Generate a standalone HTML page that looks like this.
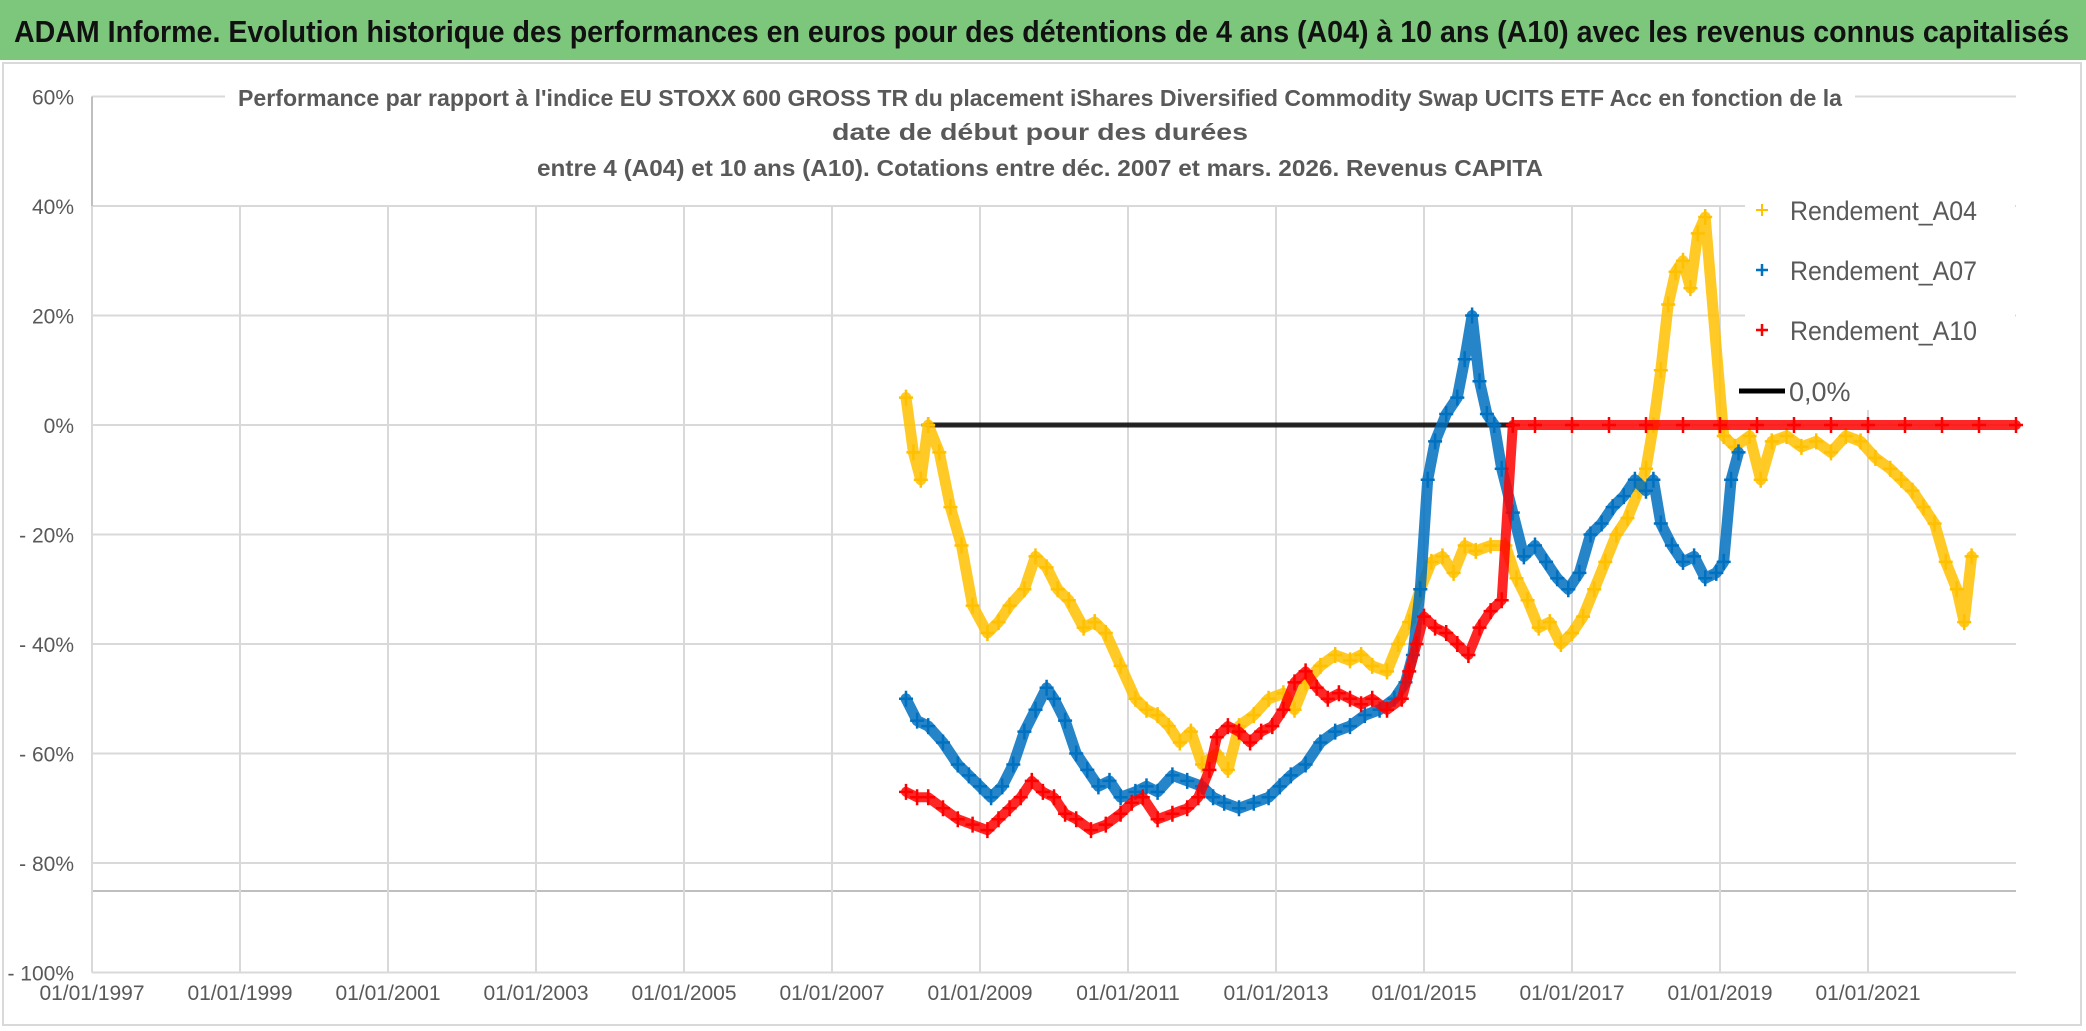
<!DOCTYPE html>
<html><head><meta charset="utf-8"><style>
html,body{margin:0;padding:0;background:#fff;}
svg{display:block;font-family:"Liberation Sans",sans-serif;}
</style></head><body>
<svg id="chart" width="2086" height="1031" viewBox="0 0 2086 1031" xmlns="http://www.w3.org/2000/svg">
<rect x="0" y="0" width="2086" height="1031" fill="#fff"/>
<rect x="0" y="0" width="2086" height="60" fill="#7dc77d"/>
<text x="14" y="42" font-size="31" font-weight="bold" fill="#111" textLength="2055" lengthAdjust="spacingAndGlyphs">ADAM Informe. Evolution historique des performances en euros pour des détentions de 4 ans (A04) à 10 ans (A10) avec les revenus connus capitalisés</text>
<rect x="3" y="63" width="2078" height="962" fill="none" stroke="#d9d9d9" stroke-width="2"/>
<g id="grid"></g>
<g id="yticks"></g>
<g id="xticks"></g>
<rect x="225" y="80" width="1630" height="118" fill="#fff"/>
<g fill="#595959" font-size="23" font-weight="bold" text-anchor="middle" font-family="Liberation Sans, sans-serif">
<text x="1040" y="106" textLength="1604" lengthAdjust="spacingAndGlyphs">Performance  par rapport à l'indice EU STOXX 600 GROSS TR  du placement iShares Diversified Commodity Swap UCITS ETF Acc en fonction de la</text>
<text x="1040" y="140" textLength="416" lengthAdjust="spacingAndGlyphs">date de début pour des durées</text>
<text x="1040" y="176" textLength="1006" lengthAdjust="spacingAndGlyphs">entre 4 (A04) et 10 ans (A10). Cotations entre déc. 2007 et mars. 2026. Revenus CAPITA</text>
</g>
<g id="series"></g>
<g id="legend">
<rect x="1745" y="185" width="270" height="225" fill="#fff"/>
<g><path d="M1756 210h12M1762 204v12" stroke="#ffc000" stroke-width="2"/><text x="1790" y="220" font-size="27" fill="#595959" textLength="187" lengthAdjust="spacingAndGlyphs">Rendement_A04</text></g>
<g><path d="M1756 270h12M1762 264v12" stroke="#0070c0" stroke-width="2.5"/><text x="1790" y="280" font-size="27" fill="#595959" textLength="187" lengthAdjust="spacingAndGlyphs">Rendement_A07</text></g>
<g><path d="M1756 330h12M1762 324v12" stroke="#ff0000" stroke-width="2.5"/><text x="1790" y="340" font-size="27" fill="#595959" textLength="187" lengthAdjust="spacingAndGlyphs">Rendement_A10</text></g>
<g><path d="M1739 391h46" stroke="#000" stroke-width="5"/><text x="1789" y="401" font-size="27" fill="#595959">0,0%</text></g>
</g>
</svg>
<script>
const yTicks=[60,40,20,0,-20,-40,-60,-80,-100];
const yTickLabels=["60%","40%","20%","0%","- 20%","- 40%","- 60%","- 80%","- 100%"];
const xTicks=[1997,1999,2001,2003,2005,2007,2009,2011,2013,2015,2017,2019,2021];
const xTickLabels=["01/01/1997","01/01/1999","01/01/2001","01/01/2003","01/01/2005","01/01/2007","01/01/2009","01/01/2011","01/01/2013","01/01/2015","01/01/2017","01/01/2019","01/01/2021"];
const a04Dates=[2008.0,2008.1,2008.2,2008.3,2008.45,2008.6,2008.75,2008.9,2009.1,2009.25,2009.4,2009.6,2009.75,2009.9,2010.05,2010.2,2010.4,2010.55,2010.7,2010.9,2011.1,2011.25,2011.4,2011.55,2011.7,2011.85,2012.0,2012.2,2012.35,2012.5,2012.7,2012.9,2013.1,2013.25,2013.4,2013.6,2013.8,2014.0,2014.15,2014.3,2014.5,2014.65,2014.8,2014.95,2015.1,2015.25,2015.4,2015.55,2015.7,2015.9,2016.1,2016.25,2016.4,2016.55,2016.7,2016.85,2017.0,2017.15,2017.3,2017.45,2017.6,2017.75,2017.9,2018.0,2018.1,2018.2,2018.3,2018.4,2018.5,2018.6,2018.7,2018.8,2019.05,2019.2,2019.4,2019.55,2019.7,2019.9,2020.1,2020.3,2020.5,2020.7,2020.9,2021.1,2021.3,2021.45,2021.6,2021.75,2021.9,2022.05,2022.2,2022.3,2022.4];
const a04Values=[5,-5,-10,0,-5,-15,-22,-33,-38,-36,-33,-30,-24,-26,-30,-32,-37,-36,-38,-44,-50,-52,-53,-55,-58,-56,-62,-60,-63,-55,-53,-50,-49,-52,-47,-44,-42,-43,-42,-44,-45,-40,-36,-30,-25,-24,-27,-22,-23,-22,-22,-28,-32,-37,-36,-40,-38,-35,-30,-25,-20,-17,-12,-8,0,10,22,28,30,25,35,38,-2,-4,-2,-10,-3,-2,-4,-3,-5,-2,-3,-6,-8,-10,-12,-15,-18,-25,-30,-36,-24];
const a07Dates=[2008.0,2008.15,2008.3,2008.5,2008.7,2008.85,2009.0,2009.15,2009.3,2009.45,2009.6,2009.75,2009.9,2010.0,2010.15,2010.3,2010.45,2010.6,2010.75,2010.9,2011.1,2011.25,2011.4,2011.6,2011.8,2012.0,2012.15,2012.3,2012.5,2012.7,2012.9,2013.05,2013.2,2013.4,2013.6,2013.8,2014.0,2014.2,2014.4,2014.6,2014.75,2014.85,2014.95,2015.05,2015.15,2015.3,2015.45,2015.55,2015.65,2015.75,2015.85,2015.95,2016.05,2016.2,2016.35,2016.5,2016.65,2016.8,2016.95,2017.1,2017.25,2017.4,2017.55,2017.7,2017.85,2018.0,2018.1,2018.2,2018.35,2018.5,2018.65,2018.8,2018.95,2019.05,2019.15,2019.25];
const a07Values=[-50,-54,-55,-58,-62,-64,-66,-68,-66,-62,-56,-52,-48,-50,-54,-60,-63,-66,-65,-68,-67,-66,-67,-64,-65,-66,-68,-69,-70,-69,-68,-66,-64,-62,-58,-56,-55,-53,-52,-50,-47,-42,-30,-10,-3,2,5,12,20,8,2,0,-8,-16,-24,-22,-25,-28,-30,-27,-20,-18,-15,-13,-10,-12,-10,-18,-22,-25,-24,-28,-27,-25,-10,-5];
const a10Dates=[2008.0,2008.15,2008.3,2008.5,2008.7,2008.9,2009.1,2009.25,2009.4,2009.55,2009.7,2009.85,2010.0,2010.15,2010.3,2010.5,2010.7,2010.9,2011.05,2011.2,2011.4,2011.6,2011.8,2011.95,2012.1,2012.2,2012.35,2012.5,2012.65,2012.8,2012.95,2013.1,2013.25,2013.4,2013.55,2013.7,2013.85,2014.0,2014.15,2014.3,2014.5,2014.7,2014.8,2014.9,2015.0,2015.15,2015.3,2015.45,2015.6,2015.75,2015.9,2016.05,2016.2,2016.5,2017.0,2017.5,2018.0,2018.5,2019.0,2019.5,2020.0,2020.5,2021.0,2021.5,2022.0,2022.5,2023.0];
const a10Values=[-67,-68,-68,-70,-72,-73,-74,-72,-70,-68,-65,-67,-68,-71,-72,-74,-73,-71,-69,-68,-72,-71,-70,-68,-63,-57,-55,-56,-58,-56,-55,-52,-47,-45,-48,-50,-49,-50,-51,-50,-52,-50,-45,-40,-35,-37,-38,-40,-42,-37,-34,-32,0,0,0,0,0,0,0,0,0,0,0,0,0,0,0];
const zeroDates=[2008.3,2016.2];
const zeroValues=[0,0];

const NS="http://www.w3.org/2000/svg";
const X0=92,X1=2016,XMIN=1997,XMAX=2023,Y0=425,PX20=109.5;
function xs(d){return X0+(d-XMIN)/(XMAX-XMIN)*(X1-X0);}
function ys(v){return Y0-v/20*PX20;}
function mk(tag,attrs,parent){const e=document.createElementNS(NS,tag);for(const k in attrs)e.setAttribute(k,attrs[k]);parent.appendChild(e);return e;}
const grid=document.getElementById('grid'),yt=document.getElementById('yticks'),xt=document.getElementById('xticks'),ser=document.getElementById('series');
yTicks.forEach((v,i)=>{
  const l=mk('line',{x1:X0,x2:X1,y1:ys(v),y2:ys(v),stroke:'#d9d9d9','stroke-width':2},grid);
  
  
  const t=mk('text',{x:74,y:ys(v)+8,'font-size':21,fill:'#595959','text-anchor':'end'},yt);
  t.textContent=yTickLabels[i];
  
  
});
const base=mk('line',{x1:X0,x2:X1,y1:891,y2:891,stroke:'#bfbfbf','stroke-width':2},grid);


const yax=mk('line',{x1:X0,x2:X0,y1:ys(60),y2:ys(-100),stroke:'#bfbfbf','stroke-width':2},grid);


xTicks.forEach((d,i)=>{
  const l=mk('line',{x1:xs(d),x2:xs(d),y1:ys(40),y2:ys(-100),stroke:'#d9d9d9','stroke-width':2},grid);
  
  
  const t=mk('text',{x:xs(d),y:1000,'font-size':21,fill:'#595959','text-anchor':'middle'},xt);
  t.textContent=xTickLabels[i];
  
  
});
function series(dates,vals,color,name,w){
  const g=mk('g',{},ser);
  
  
  const pts=dates.map((d,i)=>xs(d).toFixed(1)+','+ys(vals[i]).toFixed(1)).join(' ');
  const pl=mk('polyline',{points:pts,fill:'none',stroke:color,'stroke-width':w,'stroke-linejoin':'round','stroke-linecap':'round',opacity:0.85},g);
  
  
  dates.forEach((d,i)=>{
    const x=xs(d),y=ys(vals[i]);
    const p=mk('path',{d:`M${x-7} ${y}h14M${x} ${y-8}v16`,stroke:color,'stroke-width':2.5},g);
    
    
  });
}
series(zeroDates,zeroValues,'#000','zero-line',5);
series(a04Dates,a04Values,'#ffc000','series-a04',11);
series(a07Dates,a07Values,'#0070c0','series-a07',11);
series(a10Dates,a10Values,'#ff0000','series-a10',10);
</script>
</body></html>
